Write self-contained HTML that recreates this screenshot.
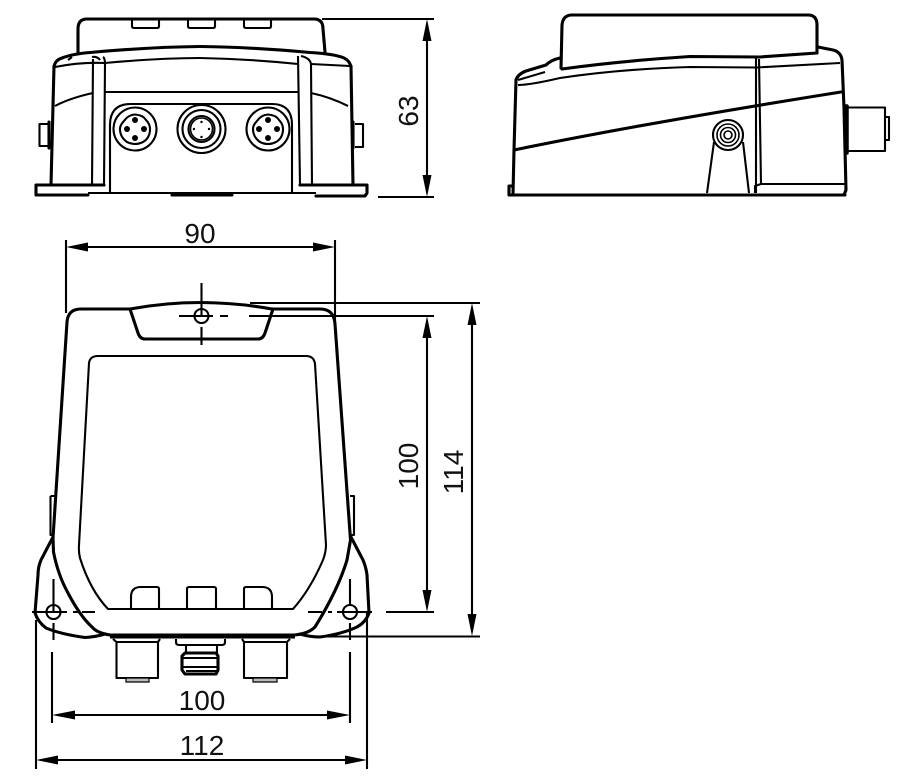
<!DOCTYPE html>
<html>
<head>
<meta charset="utf-8">
<style>
html,body{margin:0;padding:0;background:#fff;width:909px;height:780px;overflow:hidden}
svg{display:block}
text{font-family:"Liberation Sans",Arial,sans-serif;font-size:28px;fill:#111;text-anchor:middle}
.o{fill:none;stroke:#000;stroke-width:3.1;stroke-linejoin:round;stroke-linecap:round}
.m{fill:none;stroke:#000;stroke-width:2.1;stroke-linejoin:round}
.t{fill:none;stroke:#000;stroke-width:1.6;stroke-linejoin:round}
.a{fill:#000;stroke:none}
</style>
</head>
<body>
<svg width="909" height="780" viewBox="0 0 909 780" xmlns="http://www.w3.org/2000/svg">
<!-- FRONT VIEW -->
<path class="o" d="M78 52 V29 Q78 19 87 19 H314 Q323 19 323 29 L325 52"/>
<path class="m" d="M132 19 V26 Q132 28 134 28 H157 Q159 28 159 26 V19 M188 19 V26 Q188 28 190 28 H213 Q215 28 215 26 V19 M244 19 V26 Q244 28 246 28 H269 Q271 28 271 26 V19"/>
<path class="o" d="M54 67 Q55 60 62 58 Q72 54 90 52.500 Q150 47 200 46.500 Q250 47 310 52.500 Q335 54 344 58 Q350 61 351 67"/>
<path class="m" d="M55 67 Q80 62 105 63 Q160 58 200 58 Q250 59 298 64 M311 64 L350 66"/>
<path class="o" d="M54 66 L51 185 M351 66 L353 185"/>
<path class="m" d="M93 59 L92 185 M103 57 Q105 58 105 64 L104 185 M92 57 Q97 56 100 60 M298 56 L300 185 M301 56 Q310 58 311 64 L312 185 M68 60 L72 57"/>
<path class="o" d="M104 185 H36 V195 H88 M172 195 H232 M300 185 H367 V193 L365 196 H316"/>
<path class="m" d="M88 193 H316"/>
<path class="m" d="M55 106 Q70 98 93 93 M105 92 H298 M311 93 Q330 97 348 106"/>
<path class="m" d="M110 193 V125 Q110 104 131 104 H272 Q292 104 292 125 V193"/>
<!-- connectors -->
<circle class="m" cx="135" cy="129" r="21.500"/>
<path class="m" d="M124 121 Q128 115 135 114.500 Q143 115 146 120 Q150 124 150 129 Q150 138 143 142 Q135 146 127 142 Q120 137 120 129 Q120 125 124 121"/>
<circle class="a" cx="135" cy="120" r="3"/><circle class="a" cx="127" cy="129" r="3"/><circle class="a" cx="144" cy="129" r="3"/><circle class="a" cx="135" cy="138" r="3"/>
<circle class="m" cx="201.500" cy="129" r="24"/><circle class="m" cx="201.500" cy="129" r="19"/><circle class="m" cx="201.500" cy="129" r="13"/><circle class="t" cx="201.500" cy="129" r="11"/>
<circle class="a" cx="201.500" cy="122" r="1.200"/><circle class="a" cx="194" cy="129" r="1.200"/><circle class="a" cx="209" cy="129" r="1.200"/><circle class="a" cx="201.500" cy="137" r="1.200"/>
<circle class="m" cx="268" cy="129" r="21.500"/>
<path class="m" d="M257 121 Q261 115 268 114.500 Q276 115 279 120 Q283 124 283 129 Q283 138 276 142 Q268 146 260 142 Q253 137 253 129 Q253 125 257 121"/>
<circle class="a" cx="268" cy="120" r="3"/><circle class="a" cx="259" cy="129" r="3"/><circle class="a" cx="277" cy="129" r="3"/><circle class="a" cx="268" cy="138" r="3"/>
<!-- side stubs -->
<path class="m" d="M48 124 H39.500 V146 H48"/><path class="o" d="M49 122 V148"/>
<path class="m" d="M355 124 H363 V147 H355"/><path class="o" d="M353 122 V148"/>
<!-- 63 -->
<path class="m" d="M322 19 H434 M378 197 H434"/>
<path class="m" d="M427 40 V176"/>
<path class="a" d="M427 19 L431.500 41 H422.500 Z M427 197 L431.500 175 H422.500 Z"/>
<text transform="translate(418 111) rotate(-90)">63</text>

<!-- SIDE VIEW -->
<path class="o" d="M561 68 L562 25 Q563 15 572 15 H808 Q817 15 817 25 L817 53"/>
<path class="o" d="M516 80 Q518 74 526 71 L546 65 Q551 60 560 58"/>
<path class="o" d="M562 69 Q620 61 690 56.500 L760 57 L817 53"/>
<path class="m" d="M518 85 Q530 85 560 78 Q620 69 690 67 L756 67.500 L840 63 M518 80 L545 72"/>
<path class="o" d="M516 80 L514 150 L513 194 M818 47 L833 50 Q841 52 842 60 L844 108 L846 190 L844 195 H776"/>
<path class="o" d="M514 150 Q640 124 841 92"/>
<path class="o" d="M509 195 H845 M509 195 V186 H512"/>
<path class="m" d="M756 58 L756 193 M759 59 L761 184 L755 186 L755 193 M761 184 H845"/>
<circle class="m" cx="728" cy="135" r="15"/><circle class="t" cx="728" cy="135" r="11"/><circle class="t" cx="728" cy="135" r="7.500"/><circle class="t" cx="728" cy="135" r="4"/>
<path class="m" d="M707 193 L714 142 M749 193 L743 142"/>
<path class="m" d="M848 107.500 H885 V151 H848 M885 117 H889 V140 H885"/>
<path class="o" d="M845 106 H847 V153" style="stroke-width:3.500"/>

<!-- BOTTOM VIEW -->
<path class="o" d="M130 309 H81 Q68 309 67 322 L53 538 L53.500 552 Q58 575 68 593 Q80 616 92 627 Q97 633 110 635 H294 Q308 634 315 627 Q338 590 347 560 L350.500 540 L335 324 Q334 309 320 309 H272"/>
<path class="o" d="M130 309 Q165 302.500 201 302.500 Q240 303 272 309"/>
<path class="o" d="M130 309 L138 333 Q140 339 145 339 H258 Q263 339 265 333 L273 309"/>
<path class="o" d="M53 537 L41 560 Q38 567 38 575 L35 613 Q38 622 46 628 Q60 634 85 637.500 Q95 637 105 634"/>
<path class="o" d="M351 537 L363 560 Q366 567 367 575 L369 613 Q366 622 357 627 Q342 634 320 637 Q310 637 300 634"/>
<path class="m" d="M89 363 Q90 356 98 356 H306 Q314 356 315 364 L326 545 Q326 552 323 560 Q310 590 293 609 H108 Q90 590 80 558 Q78.500 552 79 545 Z"/>
<path class="m" d="M131 608 V597 Q131 587 141 587 H157 Q159 587 159 589 V608 M187 608 V589 Q187 587 189 587 H214 Q216 587 216 589 V608 M244 608 V589 Q244 587 246 587 H262 Q272 587 272 597 V608"/>
<path class="m" d="M50.500 496 H55 M50.500 496 V535 H54 M350 496 H354 V535 H351"/>
<path class="m" d="M110 637.500 H295"/>
<!-- bottom connectors -->
<path class="m" d="M113 639 L116.500 642 H158 L160 639 M116.500 642 V678 H158 V642"/>
<path d="M126 678 H149 V682 H126 Z" fill="#bbb" stroke="#000" stroke-width="1.200"/>
<path class="m" d="M242 639 L244 642 H287 L290 639 M244 642 V678 H287 V642"/>
<path d="M253 678 H277 V682 H253 Z" fill="#bbb" stroke="#000" stroke-width="1.200"/>
<path class="m" d="M176 639 V642 Q176 645 179 645 H222 Q225 645 225 642 V639"/>
<path class="m" d="M186 645 V653 M217 645 V653"/>
<path class="o" d="M185 653 H216 L218 656 V670 L216 674 H185 L182 670 V656 Z"/>
<path class="m" d="M183 658 H217 M183 667 H217 M186 671 H216"/>
<!-- centre marks -->
<circle class="m" cx="201.500" cy="316" r="7"/>
<path class="m" d="M201.500 283 V316 M201.500 327 V345 M179 316 H213 M220 316 H228 M249 316 H335"/>
<circle class="m" cx="53.500" cy="612" r="7"/>
<path class="m" d="M53.500 579 V612 M53.500 623 V640 M32 612 H67 M73 612 H78 M82 612 H95 M52 652 V723"/>
<circle class="m" cx="350" cy="612" r="7"/>
<path class="m" d="M350 579 V605 M350 623 V640 M308 612 H322 M328 612 H332 M337 612 H372 M350 652 V723"/>
<!-- dims -->
<path class="m" d="M66 240 V313 M335 240 V322 M88 247 H314"/>
<path class="a" d="M66 247 L88 242.500 V251.500 Z M335 247 L313 242.500 V251.500 Z"/>
<text x="200" y="243">90</text>
<path class="m" d="M250 303 H480 M335 316 H434 M386 612 H434 M320 636.500 H480"/>
<path class="m" d="M427 338 V590 M472 325 V614"/>
<path class="a" d="M427 316 L431.500 338 H422.500 Z M427 612 L431.500 590 H422.500 Z M472 303 L476.500 325 H467.500 Z M472 636 L476.500 614 H467.500 Z"/>
<text transform="translate(418 466) rotate(-90)">100</text>
<text transform="translate(463 472) rotate(-90)">114</text>
<path class="m" d="M36 620 V769 M367 612 V769 M74 715 H328 M58 760 H345"/>
<path class="a" d="M52 715 L75 710.500 V719.500 Z M350 715 L327 710.500 V719.500 Z M36 760 L58 755.500 V764.500 Z M367 760 L345 755.500 V764.500 Z"/>
<text x="202" y="710">100</text>
<text x="202" y="755">112</text>
</svg>
</body>
</html>
